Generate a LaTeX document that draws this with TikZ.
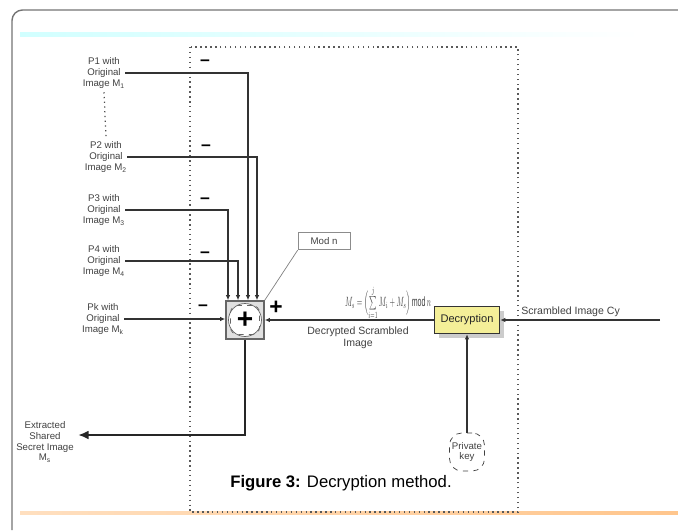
\documentclass[tikz,border=0pt]{standalone}
\usepackage{fontspec}
\usepackage{graphicx}
\setmainfont{Liberation Sans}
\usetikzlibrary{arrows.meta,shadows}
\definecolor{decfill}{RGB}{244,239,152}

\begin{document}
\begin{tikzpicture}[x=0.02cm,y=-0.02cm,
  lbl/.style={align=center,font=\fontsize{5.5}{6.2}\selectfont,text=black!75,inner sep=0pt},
  feed/.style={draw=black!80,line width=0.6pt},
  tip/.style={-{Latex[length=3pt,width=2.6pt]}},
  sign/.style={font=\bfseries\fontsize{10}{10}\selectfont,inner sep=0pt}]
  \useasboundingbox (0,0) rectangle (678,530);
  % page frame and strips
  \draw[black!55,line width=0.8pt,rounded corners=6pt] (12,530) -- (12,10) -- (678,10);
  \shade[left color=cyan!18,right color=white] (20,33) rectangle (640,37);
  \shade[left color=orange!25,right color=orange!45] (20,511) rectangle (678,514);
  \draw[dotted,black!65,line width=0.8pt] (190,47) rectangle (518,512);

  % inputs
  \node[lbl] (p1) at (104,73) {P1 with\\Original\\Image M\textsubscript{1}};
  \node[lbl] (p2) at (106,157) {P2 with\\Original\\Image M\textsubscript{2}};
  \node[lbl] (p3) at (104,210) {P3 with\\Original\\Image M\textsubscript{3}};
  \node[lbl] (p4) at (104,261) {P4 with\\Original\\Image M\textsubscript{4}};
  \node[lbl] (pk) at (103,319) {Pk with\\Original\\Image M\textsubscript{k}};
  \draw[dotted,black!70,line width=0.7pt] ([yshift=-2pt]p1.south) -- ([yshift=2pt]p2.north);

  % adder
  \node[draw=black!60,fill=black!12,line width=0.8pt,minimum size=0.76cm] (sum) at (245,320) {};
  \node[draw=black!60,fill=white,circle,minimum size=0.66cm] at (sum) {};
  \node[draw=black!60,dashed,rounded corners=4pt,minimum size=0.58cm] at (sum) {};
  \node[font=\bfseries\fontsize{16}{16}\selectfont] at (sum) {+};

  \draw[feed,tip] (p1.east) -| ([xshift=0.06cm]sum.north);
  \draw[feed,tip] (p2.east) -| ([xshift=0.24cm]sum.north);
  \draw[feed,tip] (p3.east) -| ([xshift=-0.34cm]sum.north);
  \draw[feed,tip] (p4.east) -| ([xshift=-0.14cm]sum.north);
  \draw[feed,tip] (pk.east) -- (pk.east -| sum.west);

  \node[sign] at (205,63) {--};
  \node[sign] at (206,148) {--};
  \node[sign] at (205,201) {--};
  \node[sign] at (205,255) {--};
  \node[sign] at (203,308) {--};
  \node[font=\bfseries\fontsize{13}{13}\selectfont,inner sep=0pt] at (276,308) {+};

  \node[lbl,draw=black!45,inner sep=3pt,minimum width=1.04cm] (mod) at (324,241) {Mod n};
  \draw[black!50,line width=0.4pt] (mod.south west) -- (sum.north east);

  % decryption
  \node[lbl,font=\fontsize{6.3}{7}\selectfont,text=black!85,draw=black!80,fill=decfill,line width=0.8pt,
    minimum width=1.3cm,minimum height=0.54cm,drop shadow={opacity=0.4}] (dec) at (467,320) {Decryption};
  \draw[feed,tip] (dec.west) -- (sum.east);
  \node[text=black!75,inner sep=0pt] (frm) at (388,303)
    {\resizebox{1.72cm}{0.42cm}{$M_s=\Bigl(\sum\limits_{i=1}^{j}M_i+M_s\Bigr)\,\mathrm{mod}\,n$}};
  \node[lbl,font=\fontsize{6}{7}\selectfont] at (358,338) {Decrypted Scrambled\\Image};

  \coordinate (cyin) at (660,320);
  \draw[feed,tip] (cyin) -- (dec.east);
  \node[lbl,font=\fontsize{6}{7}\selectfont,anchor=south west] at (521,317) {Scrambled Image Cy};

  \node[lbl,draw=black!75,dashed,rounded corners=7pt,minimum width=0.7cm,minimum height=0.76cm] (key) at (467,452) {Private\\key};
  \draw[feed,tip] (key.north) -- (dec.south);

  % output
  \node[lbl] (ext) at (45,442) {Extracted\\Shared\\Secret Image\\M\textsubscript{s}};
  \coordinate (outtip) at (78,435);
  \draw[black!85,line width=1.3pt,-{Latex[length=6pt,width=5pt]}] (sum.south) |- (outtip);

  \node[font=\fontsize{9.5}{11}\selectfont] at (341,483) {\textbf{Figure 3:} Decryption method.};
\end{tikzpicture}
\end{document}
